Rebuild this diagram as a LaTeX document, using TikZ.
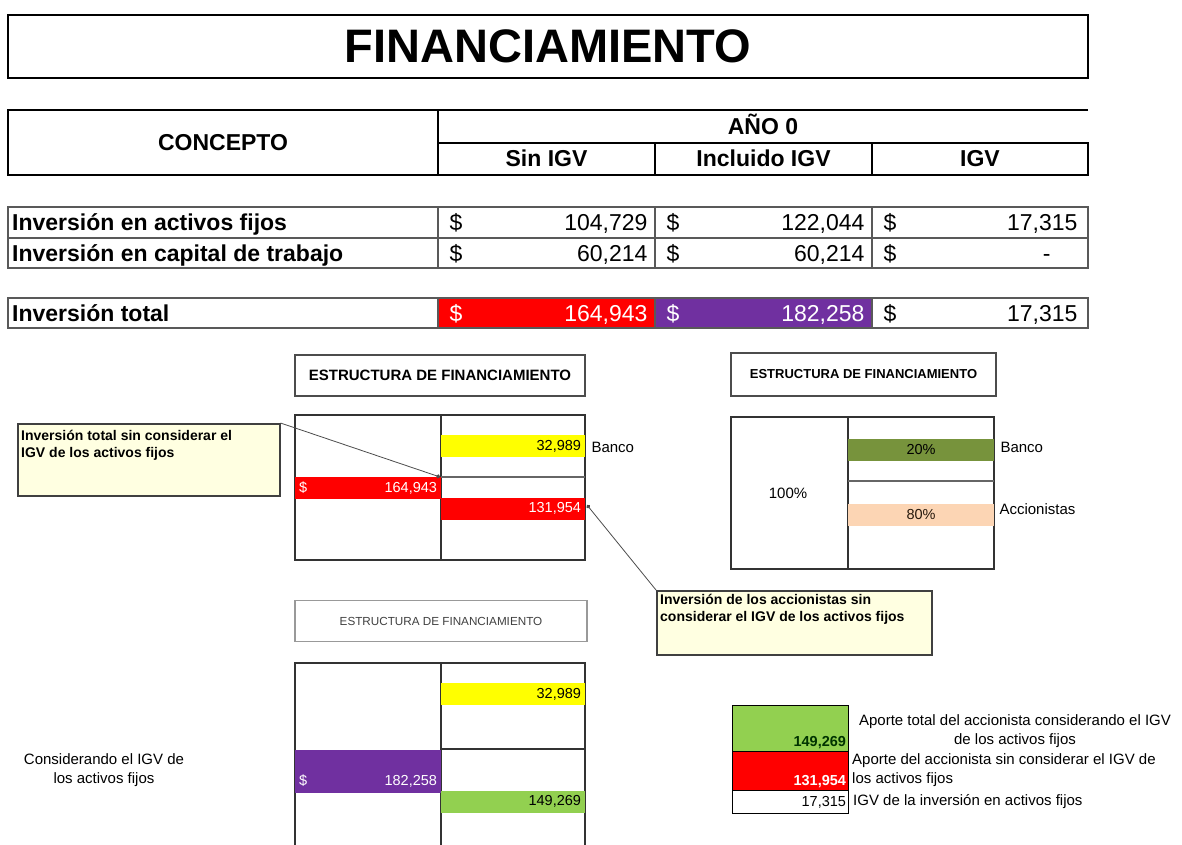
\documentclass[tikz,border=0pt]{standalone}
\usepackage{fontspec}
\setmainfont{Liberation Sans}
\usepackage{xcolor}
\usetikzlibrary{positioning, arrows.meta}

\definecolor{redfill}{HTML}{FF0000}
\definecolor{purplefill}{HTML}{7030A0}
\definecolor{yellowfill}{HTML}{FFFF00}
\definecolor{olivefill}{HTML}{77933C}
\definecolor{peachfill}{HTML}{FCD5B4}
\definecolor{greenfill}{HTML}{92D050}
\definecolor{notefill}{HTML}{FFFFE1}

\begin{document}
\begin{tikzpicture}[
    x=1pt, y=-1pt,
    head_line/.style={line width=2.6pt, black},
    row_line/.style={line width=1.8pt, black!65},
    chart_line/.style={line width=2.2pt, black!80},
    head_text/.style={anchor=base, font=\fontsize{23}{23}\selectfont\bfseries},
    label_text/.style={anchor=base west, inner xsep=0pt, font=\fontsize{23}{23}\selectfont\bfseries},
    cur_text/.style={anchor=base west, font=\fontsize{23}{23}\selectfont},
    num_text/.style={anchor=base east, font=\fontsize{23}{23}\selectfont},
    struct_title/.style={draw=black!70, line width=1.5pt, inner sep=0pt, minimum height=41pt},
    bar/.style={inner xsep=4pt, inner ysep=0pt, minimum height=22pt, text width=136pt, align=right, font=\fontsize{14.5}{14.5}\selectfont},
    side_text/.style={anchor=west, font=\fontsize{15}{19}\selectfont},
    note_box/.style={draw=black!75, line width=1.5pt, fill=notefill, inner sep=0pt, anchor=north west},
    note_text/.style={anchor=north west, align=left, inner xsep=4pt, inner ysep=7pt, font=\fontsize{14}{17}\selectfont\bfseries},
    leader/.style={black!70, line width=0.8pt, -{Circle[length=4pt]}}
]
    \useasboundingbox (0,0) rectangle (1182,845);

    % Title
    \node[draw, line width=2.5pt, minimum width=1080pt, minimum height=63pt, inner sep=0pt,
          font=\fontsize{47}{47}\selectfont\bfseries] (title) at (548,46.5) {FINANCIAMIENTO};

    % Table header
    \draw[head_line] (1088,110) -- (8,110) -- (8,175) -- (1088,175) -- (1088,143) -- (438,143);
    \draw[head_line] (438,110) -- (438,175);
    \draw[head_line] (655,143) -- (655,175);
    \draw[head_line] (872,143) -- (872,175);
    \node[head_text] (concept_head) at (223,151) {CONCEPTO};
    \node[head_text] (year_head) at (763,135) {AÑO 0};
    \node[head_text] (sin_head) at (546.5,167) {Sin IGV};
    \node[head_text] (inc_head) at (763.5,167) {Incluido IGV};
    \node[head_text] (igv_head) at (980,167) {IGV};

    % Table rows
    \fill[redfill] (438,298) rectangle (655,328);
    \fill[purplefill] (655,298) rectangle (872,328);
    \draw[row_line] (8,207) rectangle (1088,268);
    \draw[row_line] (8,238) -- (1088,238);
    \draw[row_line] (8,298) rectangle (1088,328);
    \draw[row_line] (438,207) -- (438,268);
    \draw[row_line] (655,207) -- (655,268);
    \draw[row_line] (872,207) -- (872,268);
    \draw[row_line] (438,298) -- (438,328);
    \draw[row_line] (655,298) -- (655,328);
    \draw[row_line] (872,298) -- (872,328);

    \node[label_text] (fijos_lbl) at (12,230.5) {Inversión en activos fijos};
    \node[cur_text] (fijos_cur_a) at (446,230.5) {\$};
    \node[num_text] (fijos_sin) at (651,230.5) {104,729};
    \node[cur_text] (fijos_cur_b) at (663,230.5) {\$};
    \node[num_text] (fijos_inc) at (868,230.5) {122,044};
    \node[cur_text] (fijos_cur_c) at (880,230.5) {\$};
    \node[num_text] (fijos_igv) at (1081,230.5) {17,315};

    \node[label_text] (trabajo_lbl) at (12,261) {Inversión en capital de trabajo};
    \node[cur_text] (trabajo_cur_a) at (446,261) {\$};
    \node[num_text] (trabajo_sin) at (651,261) {60,214};
    \node[cur_text] (trabajo_cur_b) at (663,261) {\$};
    \node[num_text] (trabajo_inc) at (868,261) {60,214};
    \node[cur_text] (trabajo_cur_c) at (880,261) {\$};
    \node[num_text] (trabajo_igv) at (1054,261) {-};

    \node[label_text] (total_lbl) at (12,321) {Inversión total};
    \node[cur_text, white] (total_cur_a) at (446,321) {\$};
    \node[num_text, white] (total_sin) at (651,321) {164,943};
    \node[cur_text, white] (total_cur_b) at (663,321) {\$};
    \node[num_text, white] (total_inc) at (868,321) {182,258};
    \node[cur_text] (total_cur_c) at (880,321) {\$};
    \node[num_text] (total_igv) at (1081,321) {17,315};

    % Structure without IGV
    \node[struct_title, minimum width=290pt, font=\fontsize{15}{15}\selectfont\bfseries] (est_a) at (440,375.5) {ESTRUCTURA DE FINANCIAMIENTO};
    \draw[chart_line] (295,415) rectangle (585,560);
    \draw[chart_line] (441,415) -- (441,560);
    \draw[chart_line, black!60] (441,477) -- (585,477);
    \node[bar, fill=yellowfill] (bank_a) at (513,446) {32,989};
    \node[bar, fill=redfill, text=white, text width=138pt] (total_a) at (368,488) {\$\hfill 164,943};
    \node[bar, fill=redfill, text=white] (equity_a) at (513,508.5) {131,954};
    \node[side_text] (bank_a_lbl) at (588,447) {Banco};

    % Notes
    \node[note_box, minimum width=262pt, minimum height=72pt] (note_a) at (17,423) {};
    \node[note_text] (note_a_txt) at (note_a.north west) {Inversión total sin considerar el\\IGV de los activos fijos};
    \coordinate (tip_a) at (440,477);
    \draw[leader] (note_a.north east) -- (tip_a);

    \node[note_box, minimum width=275pt, minimum height=64pt] (note_b) at (656,590) {};
    \node[note_text, inner ysep=4pt] (note_b_txt) at (note_b.north west) {Inversión de los accionistas sin\\considerar el IGV de los activos fijos};
    \coordinate (tip_b) at (587,505);
    \draw[leader] (note_b.north west) -- (tip_b);

    % Structure in percent
    \node[struct_title, minimum width=265pt, minimum height=43pt, font=\fontsize{13}{13}\selectfont\bfseries] (est_b) at (863.5,374.5) {ESTRUCTURA DE FINANCIAMIENTO};
    \draw[chart_line] (731,417) rectangle (994,569);
    \draw[chart_line] (848,417) -- (848,569);
    \draw[chart_line, black!60] (848,481) -- (994,481);
    \node[bar, fill=olivefill, align=center, text width=138pt] (bank_b) at (921,450) {20\%};
    \node[bar, fill=peachfill, align=center, text width=138pt, text=black!80!brown] (equity_b) at (921,514.5) {80\%};
    \node[font=\fontsize{15}{15}\selectfont] (whole_b) at (788,493) {100\%};
    \node[side_text] (bank_b_lbl) at (997,447) {Banco};
    \node[side_text] (equity_b_lbl) at (996,509) {Accionistas};

    % Structure with IGV
    \node[struct_title, draw=black!40, minimum width=292pt, text=black!75, font=\fontsize{11.7}{12}\selectfont] (est_c) at (441,621) {ESTRUCTURA DE FINANCIAMIENTO};
    \draw[chart_line] (295,845) -- (295,663) -- (585,663) -- (585,845);
    \draw[chart_line] (441,663) -- (441,845);
    \draw[chart_line] (441,749) -- (585,749);
    \node[bar, fill=yellowfill] (bank_c) at (513,694) {32,989};
    \node[bar, fill=purplefill, minimum height=43pt, text width=138pt] (total_c) at (368,771.5) {};
    \node[bar, text=white, text width=138pt] (total_c_val) at (368,781) {\$\hfill 182,258};
    \node[bar, fill=greenfill] (equity_c) at (513,801.5) {149,269};
    \node[align=center, font=\fontsize{15}{19}\selectfont] (igv_note) at (104,770) {Considerando el IGV de\\los activos fijos};

    % Contribution legend
    \node[draw, line width=1.2pt, fill=greenfill, minimum width=116pt, minimum height=46pt, inner sep=0pt, anchor=north west] (leg_total) at (732,705) {};
    \node[draw, line width=1.2pt, fill=redfill, minimum width=116pt, minimum height=39pt, inner sep=0pt, anchor=north west] (leg_net) at (732,751) {};
    \node[draw, line width=1.2pt, minimum width=116pt, minimum height=23pt, inner sep=0pt, anchor=north west] (leg_igv) at (732,790) {};
    \node[anchor=south east, inner sep=3pt, text=black!80!green, font=\fontsize{14.5}{14.5}\selectfont\bfseries] (leg_total_val) at (leg_total.south east) {149,269};
    \node[anchor=south east, inner sep=3pt, text=white, font=\fontsize{14.5}{14.5}\selectfont\bfseries] (leg_net_val) at (leg_net.south east) {131,954};
    \node[anchor=east, inner sep=3pt, font=\fontsize{14.5}{14.5}\selectfont] (leg_igv_val) at (leg_igv.east) {17,315};
    \node[align=center, inner sep=0pt, font=\fontsize{15}{18.5}\selectfont] (leg_total_txt) at (1015,731) {Aporte total del accionista considerando el IGV\\de los activos fijos};
    \node[anchor=north west, align=left, inner sep=0pt, font=\fontsize{15}{19}\selectfont] (leg_net_txt) at (852,753) {Aporte del accionista sin considerar el IGV de\\los activos fijos};
    \node[side_text, inner sep=0pt] (leg_igv_txt) at (853,802) {IGV de la inversión en activos fijos};
\end{tikzpicture}
\end{document}
